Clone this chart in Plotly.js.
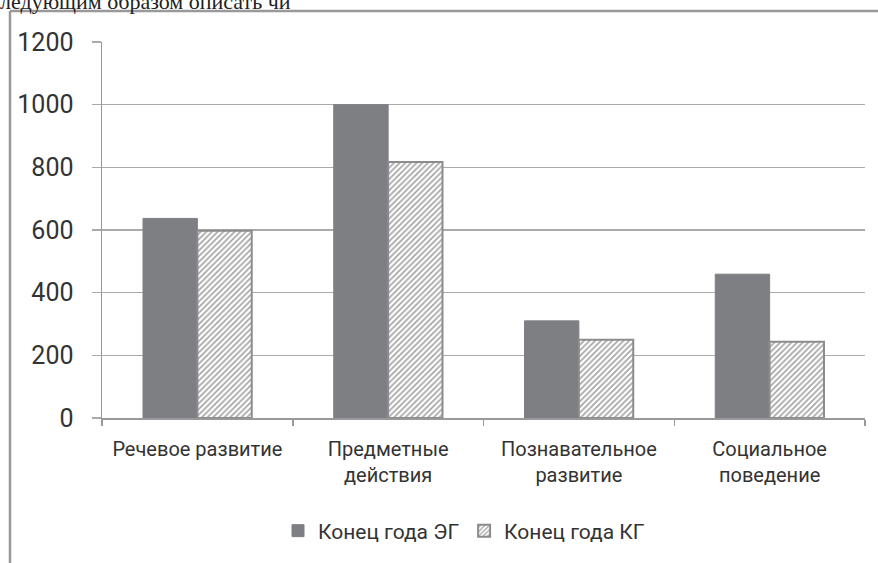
<!DOCTYPE html>
<html>
<head>
<meta charset="utf-8">
<script src="https://cdn.plot.ly/plotly-3.0.1.min.js"></script>
<style>html,body{margin:0;padding:0;background:#fff;}#chart{width:878px;height:563px;}</style>
</head>
<body>
<div id="chart"></div>
<script>
const categories = ["Речевое развитие", "Предметные действия", "Познавательное развитие", "Социальное поведение"];
const categoryLabels = ["Речевое развитие", "Предметные<br>действия", "Познавательное<br>развитие", "Социальное<br>поведение"];
const seriesNames = ["Конец года ЭГ", "Конец года КГ"];
const valuesEG = [637, 1000, 310, 459];
const valuesKG = [598, 817, 250, 243];
const yTicks = [0, 200, 400, 600, 800, 1000, 1200];
const topText = "ледующим образом описать чи";

const FONT = "Roboto, Open Sans, sans-serif";
const plotL = 102, plotR = 13, plotT = 42, plotB = 145;
const W = 878, H = 563;
const pw = W - plotL - plotR, ph = H - plotT - plotB;
const px = x => (x - plotL) / pw;
const py = y => (H - plotB - y) / ph;

const traces = [
  {
    type: "bar", name: seriesNames[0], x: categories, y: valuesEG,
    marker: {color: "#7e7f83", line: {color: "#7e7f83", width: 1}}
  },
  {
    type: "bar", name: seriesNames[1], x: categories, y: valuesKG,
    marker: {
      color: "#ffffff",
      pattern: {shape: "/", fgcolor: "#a3a3a3", bgcolor: "#ffffff", size: 4, solidity: 0.4},
      line: {color: "#8c8c8c", width: 2}
    }
  }
];

const layout = {
  width: W, height: H,
  margin: {l: plotL, r: plotR, t: plotT, b: plotB},
  paper_bgcolor: "#ffffff", plot_bgcolor: "#ffffff",
  barmode: "group", bargap: 0.43, bargroupgap: 0,
  showlegend: true,
  legend: {
    orientation: "h", x: px(278), xanchor: "left", y: py(531), yanchor: "middle",
    font: {family: FONT, size: 21, color: "#333"}, itemwidth: 30, traceorder: "normal"
  },
  xaxis: {
    type: "category", tickmode: "array", tickvals: categories, ticktext: categoryLabels,
    tickson: "boundaries", ticks: "outside", ticklen: 6, tickcolor: "#999", tickwidth: 1.5,
    ticklabelstandoff: 12,
    showline: true, linecolor: "#999", linewidth: 1.5, showgrid: false,
    tickfont: {family: FONT, size: 20, color: "#333"}, fixedrange: true
  },
  yaxis: {
    range: [0, 1200], tickmode: "array", tickvals: yTicks, ticktext: yTicks.map(String),
    ticks: "outside", ticklen: 9, tickcolor: "#aaa", tickwidth: 1.5, ticklabelstandoff: 13,
    showline: true, linecolor: "#999", linewidth: 1.5,
    showgrid: true, gridcolor: "#aaa", gridwidth: 1.5, zeroline: false,
    tickfont: {family: FONT, size: 25, color: "#333"}, fixedrange: true
  },
  shapes: [
    {type: "line", xref: "paper", yref: "paper", x0: px(10), x1: px(10), y0: py(11), y1: py(H + 5), line: {color: "#999", width: 2.5}},
    {type: "line", xref: "paper", yref: "paper", x0: px(10), x1: px(W + 5), y0: py(11), y1: py(11), line: {color: "#999", width: 2.5}}
  ],
  annotations: [
    {text: topText, xref: "paper", yref: "paper", x: px(-2), xanchor: "left", y: py(16), yanchor: "bottom",
     showarrow: false, font: {family: "Liberation Serif, DejaVu Serif, serif", size: 22, color: "#222"}}
  ]
};

Plotly.newPlot("chart", traces, layout, {displayModeBar: false, staticPlot: true});
</script>
</body>
</html>
